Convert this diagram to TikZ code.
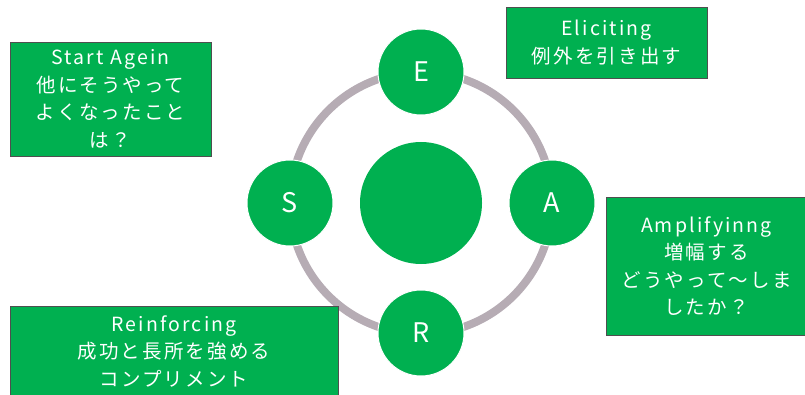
\documentclass[tikz,border=0pt]{standalone}
\usepackage{fontspec}
\newfontfamily\jp{Noto Sans CJK JP}
\newfontfamily\jpsp[LetterSpace=11]{Noto Sans CJK JP}
\definecolor{sgreen}{HTML}{00B050}
\definecolor{ringc}{HTML}{B6ACB4}
\definecolor{boxline}{HTML}{4F4F4F}
\begin{document}
\begin{tikzpicture}[x=1pt,y=-1pt,
  box/.style={draw=boxline, line width=0.9pt, fill=sgreen, text=white, align=center, inner sep=0pt,
    font=\jpsp\fontsize{19.5}{27.5}\selectfont},
  letter/.style={circle, draw=white, line width=1pt, fill=sgreen, text=white, minimum size=86, inner sep=0pt,
    font=\jp\fontsize{27}{30}\selectfont},
  ring/.style={draw=ringc, line width=8pt}]
\useasboundingbox (0,0) rectangle (805,395);
\coordinate (c) at (421,203);
\draw[ring] (c) circle (131);
\node[circle, fill=sgreen, minimum size=122, inner sep=0pt] (core) at (c) {};
\node[letter] (E) at (421,72) {E};
\node[letter] (A) at (552,203) {A};
\node[letter] (R) at (421,333) {R};
\node[letter] (S) at (290,203) {S};
\node[box, minimum width=201, minimum height=114] (sa) at (110.5,99) {Start Agein\\他にそうやって\\よくなったこと\\は？};
\node[box, minimum width=201, minimum height=71] (el) at (606.5,42.5) {Eliciting\\例外を引き出す};
\node[box, minimum width=201, minimum height=138] (am) at (706.5,266) {Amplifyinng\\増幅する\\どうやって～しま\\したか？};
\node[box, minimum width=328, minimum height=91] (re) at (174,351.5) {Reinforcing\\成功と長所を強める\\コンプリメント};
\end{tikzpicture}
\end{document}
